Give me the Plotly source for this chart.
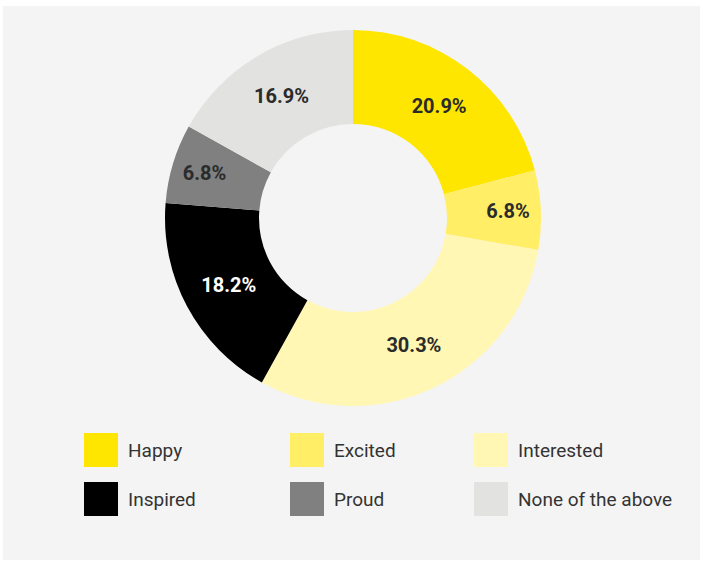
import plotly.graph_objects as go

# Survey responses: how people feel
labels = ["Happy", "Excited", "Interested", "Inspired", "Proud", "None of the above"]
shares = [20.9, 6.8, 30.3, 18.2, 6.8, 16.9]
colors = ["#FFE600", "#FFEE66", "#FFF7B3", "#000000", "#808080", "#E2E2E1"]
text_colors = ["#2b2b2b", "#2b2b2b", "#2b2b2b", "#FFFFFF", "#2b2b2b", "#2b2b2b"]

W, H = 703, 563
FONT = "Roboto, sans-serif"


def px(x):
    return x / W


def py(y):
    return 1 - y / H


fig = go.Figure(
    go.Pie(
        labels=labels,
        values=shares,
        hole=0.5,
        sort=False,
        direction="clockwise",
        rotation=0,
        marker=dict(colors=colors, line=dict(width=0)),
        texttemplate="%{value:.1f}%",
        textposition="inside",
        insidetextorientation="horizontal",
        insidetextfont=dict(family=FONT, size=20, color=text_colors, weight="bold"),
        domain=dict(x=[px(165), px(541)], y=[py(406), py(30)]),
        showlegend=False,
        hoverinfo="label+percent",
    )
)

shapes = [
    dict(type="rect", xref="paper", yref="paper",
         x0=px(3), x1=px(700), y0=py(560), y1=py(6),
         fillcolor="#F4F4F4", line=dict(width=0), layer="below")
]
annotations = []

# Legend laid out as a 3-column grid of swatches with labels
col_x = [84, 290, 474]
row_y = [433, 482]
sw = 34
for i, (lab, col) in enumerate(zip(labels, colors)):
    cx = col_x[i % 3]
    cy = row_y[i // 3]
    shapes.append(dict(type="rect", xref="paper", yref="paper",
                       x0=px(cx), x1=px(cx + sw), y0=py(cy + sw), y1=py(cy),
                       fillcolor=col, line=dict(width=0)))
    annotations.append(dict(xref="paper", yref="paper",
                            x=px(cx + sw + 8), y=py(cy + sw / 2),
                            xanchor="left", yanchor="middle", showarrow=False,
                            text=lab, font=dict(family=FONT, size=19, color="#333333")))

fig.update_layout(
    width=W, height=H,
    margin=dict(l=0, r=0, t=0, b=0),
    paper_bgcolor="#FFFFFF",
    shapes=shapes,
    annotations=annotations,
)

fig.write_html("out.html")
